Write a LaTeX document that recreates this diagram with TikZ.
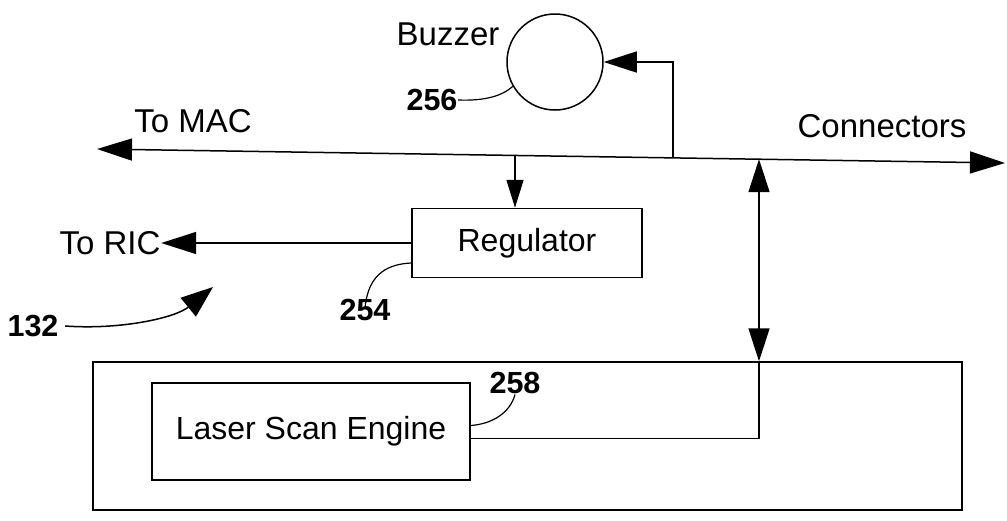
\documentclass[tikz,border=0pt]{standalone}
\usepackage{fontspec}
\setmainfont{Liberation Sans}
\usetikzlibrary{arrows.meta}
\begin{document}
\begin{tikzpicture}[x=1pt,y=-1pt,
  line width=1.5pt,
  txt/.style={font=\fontsize{33}{38}\selectfont, inner sep=0pt},
  num/.style={font=\fontsize{30.5}{36}\selectfont\bfseries, inner sep=0pt},
  box/.style={draw, font=\fontsize{32}{38}\selectfont, inner sep=0pt},
  bigtip/.tip={Triangle[length=35pt,width=22pt]},
  midtip/.tip={Triangle[length=33pt,width=21pt]},
  smalltip/.tip={Triangle[length=28pt,width=17pt]}]
\useasboundingbox (0,0) rectangle (1007,520);
% nodes
\node[txt] (buzzlbl) at (448,34) {Buzzer};
\node[circle, draw, minimum size=96pt, inner sep=0pt] (buzzer) at (555,62) {};
\node[num] (n256) at (432,100) {256};
\node[txt] (mac) at (193,121) {To MAC};
\node[txt] (conn) at (882,126) {Connectors};
\node[box, minimum width=230pt, minimum height=69pt] (reg) at (527,243) {Regulator};
\node[txt] (ric) at (110,243) {To RIC};
\node[num] (n254) at (365,310) {254};
\node[num] (n132) at (33,326) {132};
\node[draw, minimum width=869pt, minimum height=148pt, inner sep=0pt] (outer) at (527.5,436) {};
\node[box, minimum width=318pt, minimum height=97pt] (lse) at (311,431.5) {Laser Scan Engine};
\node[num] (n258) at (515,383) {258};
% bus coordinates
\coordinate (busL) at (97,149);
\coordinate (busR) at (1005,163);
\coordinate (jReg) at (515,155.4);
\coordinate (jBuzz) at (673,157.9);
\coordinate (jLse) at (759,159.2);
\coordinate (p132) at (213,287);
% connectors
\draw[{bigtip}-{bigtip}] (busL) -- (busR);
\draw[-{smalltip}] (jReg) -- (jReg |- reg.north);
\draw[-{midtip}] (jBuzz) |- (buzzer.east);
\draw[-{bigtip}] (reg.west) -- (ric.east);
\draw ([yshift=-7pt]lse.east) -| (jLse |- outer.north);
\draw[{midtip}-{midtip}] (jLse |- outer.north) -- (jLse);
% leaders
\draw[line width=1.2pt] (n256.east) .. controls (485,101) and (502,96) .. (buzzer.210);
\draw[line width=1.2pt] ([yshift=-10pt]n254.north) .. controls (368,272) and (390,264) .. ([yshift=-20pt]reg.west);
\draw[line width=1.2pt] (n258.south) .. controls (510,413) and (492,424) .. ([yshift=6pt]lse.east);
\draw[-{Triangle[length=32pt,width=24pt]}] ([xshift=6pt]n132.east) .. controls (120,330) and (175,318) .. (p132);
\end{tikzpicture}
\end{document}
